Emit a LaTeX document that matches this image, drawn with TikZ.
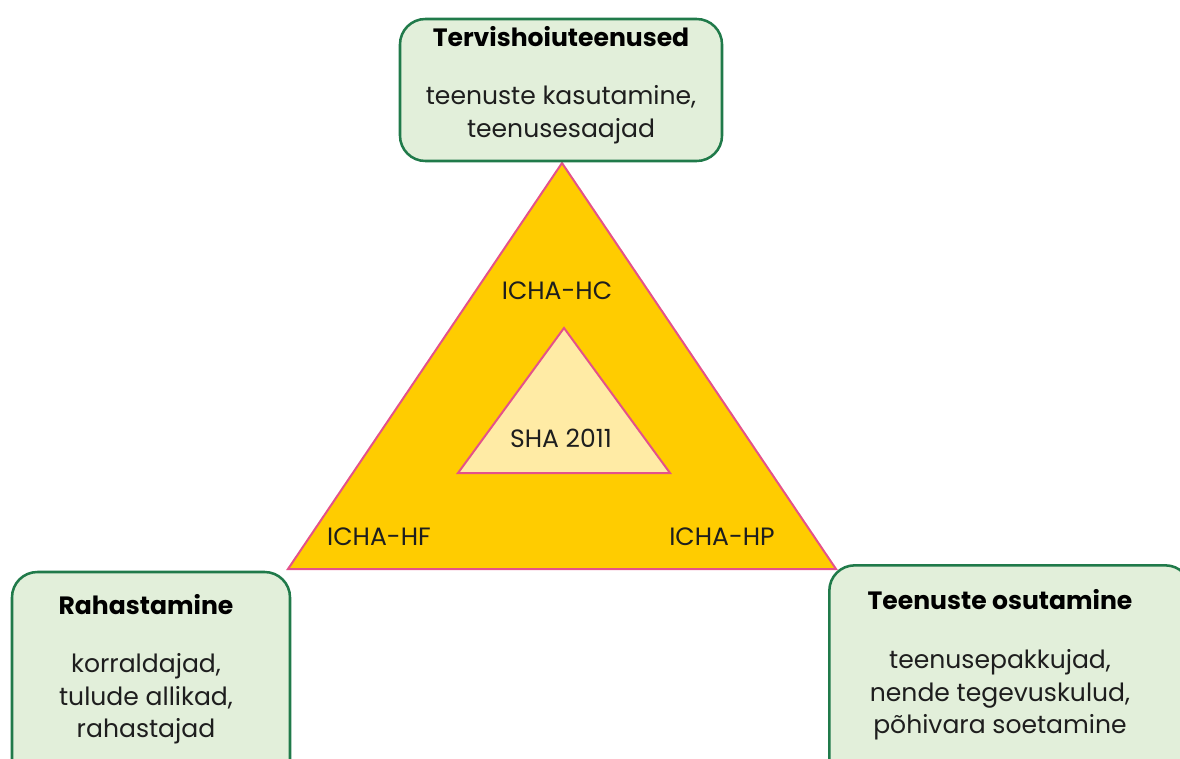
\documentclass[tikz,border=0pt]{standalone}
\usepackage{fontspec}
\setmainfont{Poppins}
\definecolor{boxgreen}{RGB}{32,122,74}
\definecolor{boxfill}{RGB}{226,239,218}
\definecolor{tripink}{RGB}{228,82,138}
\definecolor{triyellow}{RGB}{255,204,0}
\definecolor{innerfill}{RGB}{255,235,165}
\definecolor{txt}{RGB}{30,30,30}
\tikzset{
  box/.style={draw=boxgreen, fill=boxfill, line width=1.9pt, rounded corners=19pt, inner sep=0pt},
  title/.style={font=\fontsize{18.8pt}{22pt}\selectfont\bfseries, text=black, inner sep=0pt},
  body/.style={font=\fontsize{18.8pt}{24.5pt}\selectfont, text=txt, align=center, inner sep=0pt},
  tri/.style={draw=tripink, line width=1.5pt, line join=miter},
  lab/.style={font=\fontsize{18.8pt}{22pt}\selectfont, text=txt, inner sep=0pt},
}
\begin{document}
\begin{tikzpicture}[x=0.75pt, y=-0.75pt]
\useasboundingbox (0,0) rectangle (1180,758);
\clip (0,0) rectangle (1180,758);
% outer triangle
\coordinate (A) at (562,163);
\coordinate (B) at (288,569);
\coordinate (C) at (836,569);
\draw[tri, fill=triyellow] (A) -- (B) -- (C) -- cycle;
% inner triangle
\coordinate (a) at (564,328);
\coordinate (b) at (458,473);
\coordinate (c) at (670,473);
\draw[tri, fill=innerfill] (a) -- (b) -- (c) -- cycle;
\node[lab] (hc) at (557,291) {ICHA-HC};
\node[lab] (sha) at (561,438) {SHA 2011};
\node[lab] (hf) at (379,537) {ICHA-HF};
\node[lab] (hp) at (722,537) {ICHA-HP};
% top box
\node[box, minimum width=241.5pt, minimum height=106.5pt] (topbox) at (561,90) {};
\node[title] (toptitle) at (561,37) {Tervishoiuteenused};
\node[body] (topbody) at (561,115) {teenuste kasutamine,\\teenusesaajad};
% left box
\node[box, minimum width=208.5pt, minimum height=165pt] (leftbox) at (151,682) {};
\node[title] (lefttitle) at (146,605) {Rahastamine};
\node[body] (leftbody) at (146,699) {korraldajad,\\tulude allikad,\\rahastajad};
% right box
\node[box, minimum width=271pt, minimum height=169pt] (rightbox) at (1010,678) {};
\node[title] (righttitle) at (1000,600) {Teenuste osutamine};
\node[body] (rightbody) at (1000,695) {teenusepakkujad,\\nende tegevuskulud,\\põhivara soetamine};
\end{tikzpicture}
\end{document}
